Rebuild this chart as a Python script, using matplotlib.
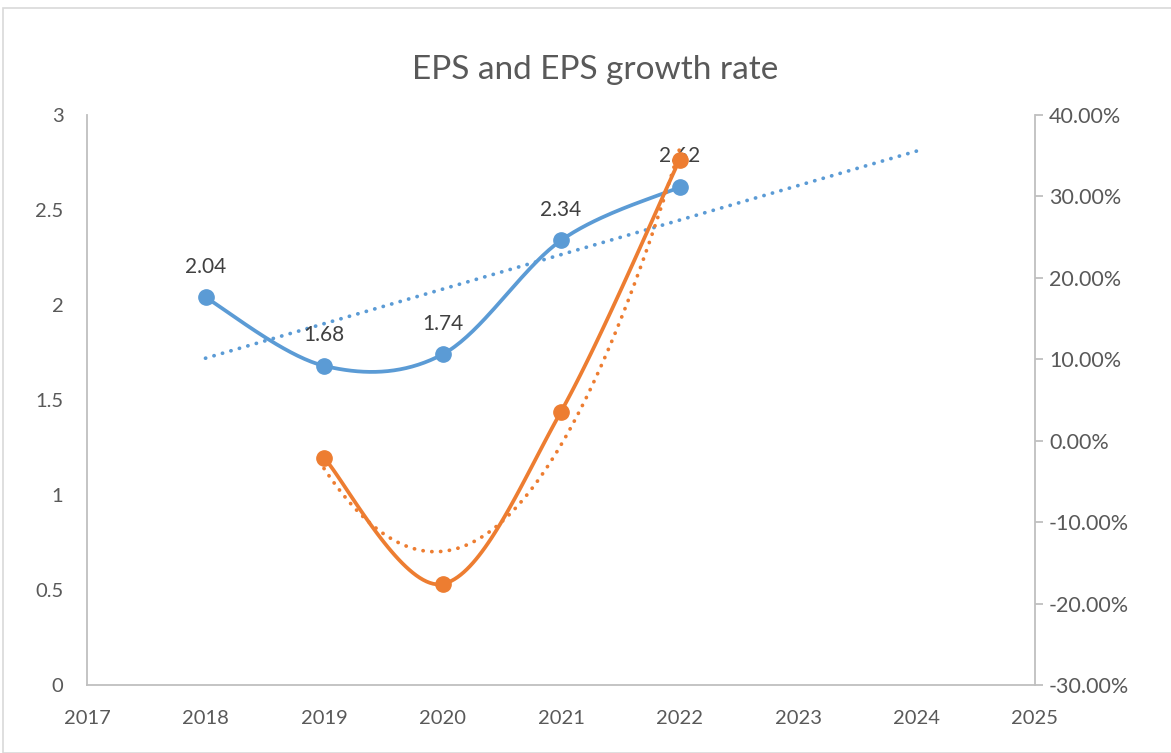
import matplotlib.pyplot as plt
import numpy as np
from matplotlib.patches import Rectangle

plt.rcParams['font.family'] = ['Lato', 'DejaVu Sans']

# data
years = [2018, 2019, 2020, 2021, 2022]
eps = [2.04, 1.68, 1.74, 2.34, 2.62]
growth_years = [2019, 2020, 2021, 2022]
growth = [-2.1, -17.6, 3.57, 34.48]  # %

# trendlines
eps_trend_years = [2018, 2024]
eps_trend = [1.72, 2.81]
growth_trend = [-3.4, -13.6, -0.5, 35.8]  # 2nd order poly trend, 2019..2022

blue = '#5B9BD5'
orange = '#ED7D31'
grey_txt = '#595959'
grey_line = '#BFBFBF'


def smooth(x, y, n=40):
    # Catmull-Rom style smoothing like Excel's "smoothed line"
    x = np.asarray(x, float)
    y = np.asarray(y, float)
    px = np.concatenate([[x[0]], x, [x[-1]]])
    py = np.concatenate([[y[0]], y, [y[-1]]])
    xs, ys = [], []
    t = np.linspace(0, 1, n)
    for i in range(1, len(px) - 2):
        p0 = np.array([px[i], py[i]])
        p3 = np.array([px[i + 1], py[i + 1]])
        p1 = p0 + (p3 - np.array([px[i - 1], py[i - 1]])) / 6
        p2 = p3 - (np.array([px[i + 2], py[i + 2]]) - p0) / 6
        b = ((1 - t) ** 3)[:, None] * p0 + (3 * (1 - t) ** 2 * t)[:, None] * p1 \
            + (3 * (1 - t) * t ** 2)[:, None] * p2 + (t ** 3)[:, None] * p3
        xs.extend(b[:, 0])
        ys.extend(b[:, 1])
    return np.array(xs), np.array(ys)


fig = plt.figure(figsize=(11.71, 7.53), dpi=100)
fig.patches.append(Rectangle((3 / 1171, 0), 1.0, 1 - 8 / 753, transform=fig.transFigure,
                             fill=False, edgecolor='#D9D9D9', linewidth=1.2))

ax = fig.add_axes([87 / 1171, 1 - 685 / 753, (1035 - 87) / 1171, (685 - 115) / 753])
ax2 = ax.twinx()

lw = 2.7
dots = (0, (0.05, 2.3))

# EPS series
sx, sy = smooth(years, eps)
ax.plot(sx, sy, color=blue, linewidth=lw, solid_capstyle='round', zorder=3)
ax.plot(years, eps, 'o', color=blue, markersize=11, zorder=4)
ax.plot(eps_trend_years, eps_trend, color=blue, linewidth=lw, linestyle=dots,
        dash_capstyle='round', zorder=3)
for x, v in zip(years, eps):
    ax.annotate(f'{v:.2f}', (x, v), xytext=(0, 15), textcoords='offset points',
                ha='center', va='bottom', fontsize=15, color='#404040', zorder=5)

# growth series
gx, gy = smooth(growth_years, growth)
ax2.plot(gx, gy, color=orange, linewidth=lw, solid_capstyle='round', zorder=3)
ax2.plot(growth_years, growth, 'o', color=orange, markersize=11, zorder=4)
coef = np.polyfit(growth_years, growth_trend, 2)
tx = np.linspace(growth_years[0], growth_years[-1], 200)
ax2.plot(tx, np.polyval(coef, tx), color=orange, linewidth=lw, linestyle=dots,
         dash_capstyle='round', zorder=3)

# axes styling
ax.set_xlim(2017, 2025)
ax.set_ylim(0, 3)
ax2.set_ylim(-30, 40)
ax.set_xticks(range(2017, 2026))
ax.set_yticks([0, 0.5, 1, 1.5, 2, 2.5, 3])
ax.set_yticklabels(['0', '0.5', '1', '1.5', '2', '2.5', '3'])
ax2.set_yticks(range(-30, 41, 10))
ax2.set_yticklabels([f'{v:.2f}%' for v in range(-30, 41, 10)])

for a in (ax, ax2):
    for s in a.spines.values():
        s.set_visible(False)
ax.spines['left'].set_visible(True)
ax.spines['bottom'].set_visible(True)
ax2.spines['right'].set_visible(True)
for s in ('left', 'bottom'):
    ax.spines[s].set_color(grey_line)
    ax.spines[s].set_linewidth(1.3)
ax2.spines['right'].set_color(grey_line)
ax2.spines['right'].set_linewidth(1.3)

ax.tick_params(axis='x', length=0, pad=18, labelsize=14.5, labelcolor=grey_txt)
ax.tick_params(axis='y', length=0, pad=17, labelsize=14.5, labelcolor=grey_txt)
ax2.tick_params(axis='y', length=6, width=1.3, color=grey_line, pad=4,
                labelsize=15.5, labelcolor=grey_txt)

fig.text(595 / 1171, 1 - 70 / 753, 'EPS and EPS growth rate', ha='center', va='center',
         fontsize=24, color=grey_txt)

fig.savefig('out.png', dpi=100)
